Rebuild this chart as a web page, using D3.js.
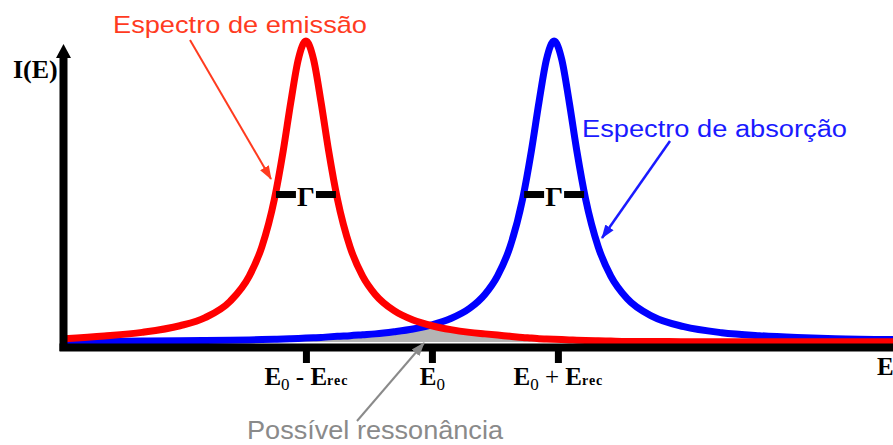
<!DOCTYPE html>
<html>
<head>
<meta charset="utf-8">
<script src="https://cdn.jsdelivr.net/npm/d3@7"></script>
<style>
	body { margin: 0; background: #fff; }
	svg { display: block; }
</style>
</head>
<body>
<svg id="chart" width="893" height="445"></svg>
<script>
// energy axis in units of E_rec, measured from E0
const energy = [
	-2.92, -2.6, -2.3, -2.0, -1.8, -1.6, -1.45, -1.35, -1.25, -1.18, -1.12, -1.06, -1.0,
	-0.94, -0.88, -0.82, -0.75, -0.65, -0.55, -0.45, -0.3, -0.15, 0, 0.15, 0.3, 0.42,
	0.52, 0.62, 0.72, 0.79, 0.85, 0.91, 0.97, 1.03, 1.09, 1.15, 1.22, 1.32, 1.42, 1.55,
	1.75, 2.0, 2.3, 2.6, 2.9, 3.2, 3.66
];
const emission = [
	0.011, 0.02, 0.032, 0.054, 0.081, 0.136, 0.219, 0.316, 0.475, 0.636, 0.797, 0.94, 1.0,
	0.94, 0.797, 0.636, 0.475, 0.316, 0.219, 0.158, 0.104, 0.073, 0.054, 0.041, 0.032, 0.027,
	0.023, 0.019, 0.015, 0.013, 0.011, 0.010, 0.009, 0.008, 0.007, 0.006, 0.005, 0.004, 0.003, 0.002,
	0.002, 0.001, 0.001, 0.001, 0.001, 0.001, 0.001
];
const absorption = [
	0.001, 0.002, 0.003, 0.004, 0.005, 0.006, 0.007, 0.008, 0.009, 0.010, 0.011, 0.012, 0.013,
	0.014, 0.015, 0.017, 0.019, 0.021, 0.024, 0.027, 0.034, 0.043, 0.057, 0.078, 0.112, 0.158,
	0.219, 0.316, 0.475, 0.636, 0.797, 0.94, 1.0, 0.94, 0.797, 0.636, 0.475, 0.316, 0.219, 0.144,
	0.085, 0.051, 0.031, 0.021, 0.015, 0.011, 0.008
];
const tickValues = [-1, 0, 1];
const tickLabels = [
	['E', '0', ' - ', 'E', 'rec'],
	['E', '0'],
	['E', '0', ' + ', 'E', 'rec'],
];
const peakCenters = [-1.0, 0.97];
const halfWidth = 0.238;   // Γ / 2
const gammaLevel = 0.49;

const svg = d3.select('#chart');
const x = d3.scaleLinear().domain([-2.96, 3.66]).range([59, 893]);
const y = d3.scaleLinear().domain([0, 1]).range([342, 41]);

const points = energy.map((e, i) => ({ e, red: emission[i], blue: absorption[i] }));

// arrow heads
const defs = svg.append('defs');
[['red', '#ff3b1f'], ['blue', '#1a1aff'], ['grey', '#8a8a8a']].forEach(([id, c]) => {
	defs.append('marker')
		.attr('id', 'arrow-' + id)
		.attr('viewBox', '0 -6 14 12')
		.attr('markerUnits', 'userSpaceOnUse')
		.attr('markerWidth', 14)
		.attr('markerHeight', 12)
		.attr('refX', 13)
		.attr('orient', 'auto')
		.append('path')
		.attr('d', 'M0,-5L14,0L0,5Z')
		.attr('fill', c);
});

// overlap (possible resonance)
svg.append('path')
	.datum(points)
	.attr('fill', '#b4b4b4')
	.attr('d', d3.area()
		.x(d => x(d.e))
		.y0(y(0))
		.y1(d => y(Math.min(d.red, d.blue)))
		.curve(d3.curveMonotoneX));

const line = key => d3.line()
	.x(d => x(d.e))
	.y(d => y(d[key]))
	.curve(d3.curveMonotoneX);

svg.append('path')
	.datum(points)
	.attr('fill', 'none')
	.attr('stroke', '#0000ff')
	.attr('stroke-width', 7)
	.attr('stroke-linejoin', 'round')
	.attr('d', line('blue'));

svg.append('path')
	.datum(points)
	.attr('fill', 'none')
	.attr('stroke', '#ff0000')
	.attr('stroke-width', 7)
	.attr('stroke-linejoin', 'round')
	.attr('d', line('red'));

// Γ markers at half maximum
peakCenters.forEach(c => {
	const g = svg.append('g');
	const yy = y(gammaLevel);
	g.append('rect')
		.attr('x', x(c - halfWidth))
		.attr('y', yy - 3.5)
		.attr('width', x(c) - 10 - x(c - halfWidth))
		.attr('height', 7)
		.attr('fill', '#000');
	g.append('rect')
		.attr('x', x(c) + 10)
		.attr('y', yy - 3.5)
		.attr('width', x(c + halfWidth) - x(c) - 10)
		.attr('height', 7)
		.attr('fill', '#000');
	g.append('text')
		.attr('x', x(c))
		.attr('y', yy + 11)
		.attr('text-anchor', 'middle')
		.style('font-family', 'Liberation Serif')
		.style('font-weight', 'bold')
		.style('font-size', '28px')
		.text('Γ');
});

// x axis
const xAxis = svg.append('g')
	.attr('transform', `translate(0, ${y(0) + 5})`)
	.call(d3.axisBottom(x)
		.tickValues(tickValues)
		.tickSize(16)
		.tickSizeOuter(0)
		.tickFormat(''));

xAxis.select('.domain')
	.attr('stroke', '#000')
	.attr('stroke-width', 8);
xAxis.selectAll('.tick line')
	.attr('stroke', '#000')
	.attr('stroke-width', 7);
xAxis.selectAll('.tick text').remove();

xAxis.selectAll('.tick')
	.append('text')
	.attr('y', 38)
	.attr('text-anchor', 'middle')
	.attr('fill', '#000')
	.style('font-family', 'Liberation Serif')
	.style('font-weight', 'bold')
	.style('font-size', '25px')
	.each(function (_, i) {
		const t = d3.select(this);
		tickLabels[i].forEach((part, j) => {
			const ts = t.append('tspan').text(part);
			if (j === 1) ts.attr('dy', 5).style('font-size', '17px').style('font-weight', 'normal');
			if (j === 2) ts.attr('dy', -5).style('font-weight', 'normal');
			if (j === 4) ts.style('font-size', '14px').style('letter-spacing', '1px');
		});
	});

// y axis with arrow
svg.append('line')
	.attr('x1', 63.5).attr('x2', 63.5)
	.attr('y1', y(0) + 9).attr('y2', 54)
	.attr('stroke', '#000')
	.attr('stroke-width', 8);
svg.append('path')
	.attr('d', 'M56,58L63.5,44L71,58Z')
	.attr('fill', '#000');

svg.append('text')
	.attr('x', 13).attr('y', 78)
	.style('font-family', 'Liberation Serif')
	.style('font-weight', 'bold')
	.style('font-size', '26px')
	.text('I(E)');

svg.append('text')
	.attr('x', 877).attr('y', 375)
	.style('font-family', 'Liberation Serif')
	.style('font-weight', 'bold')
	.style('font-size', '25px')
	.text('E');

// annotations
const note = (txt, tx, ty, len, size, color, from, to, id, sw) => {
	svg.append('text')
		.attr('x', tx).attr('y', ty)
		.attr('textLength', len)
		.attr('lengthAdjust', 'spacingAndGlyphs')
		.attr('fill', color)
		.style('font-family', 'Liberation Sans')
		.style('font-size', size + 'px')
		.text(txt);
	svg.append('line')
		.attr('x1', from[0]).attr('y1', from[1])
		.attr('x2', to[0]).attr('y2', to[1])
		.attr('stroke', color)
		.attr('stroke-width', sw)
		.attr('marker-end', `url(#arrow-${id})`);
};

note('Espectro de emissão', 113, 33, 254, 24, '#ff3b1f', [190, 40], [271, 179], 'red', 2);
note('Espectro de absorção', 582, 137, 265, 23, '#1a1aff', [670, 141], [602, 238], 'blue', 2.5);
note('Possível ressonância', 247, 439, 256, 25, '#8a8a8a', [357, 421], [424, 343], 'grey', 2);
</script>
</body>
</html>
